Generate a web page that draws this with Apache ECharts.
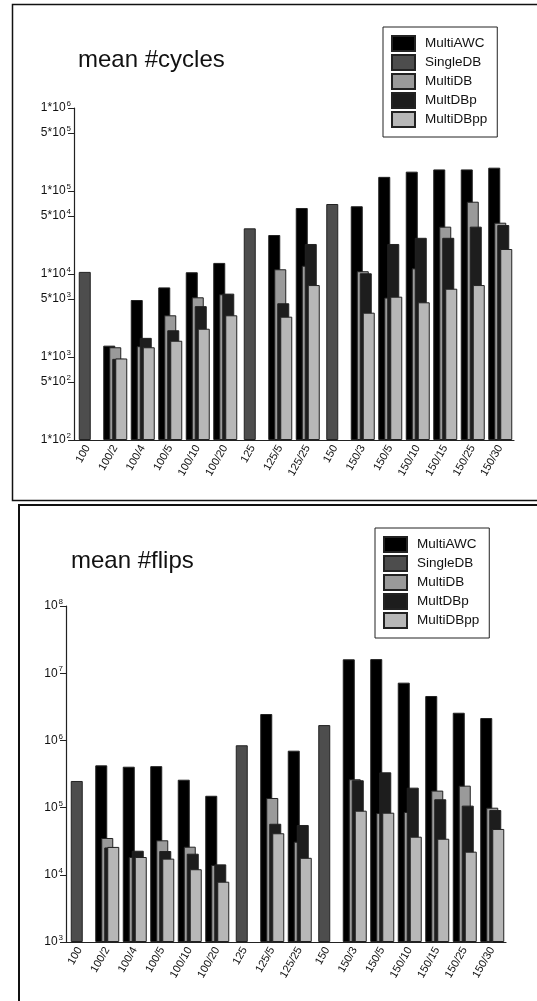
<!DOCTYPE html>
<html>
<head>
<meta charset="utf-8">
<title>mean #cycles / mean #flips</title>
<script src="https://cdn.jsdelivr.net/npm/echarts@6/dist/echarts.min.js"></script>
<style>
  html, body { margin: 0; padding: 0; background: #fff; }
  #chart { width: 537px; height: 1001px; }
</style>
</head>
<body>
<div id="chart"></div>
<script>
// categories (instance sizes)
var categories = ['100', '100/2', '100/4', '100/5', '100/10', '100/20', '125', '125/5', '125/25',
  '150', '150/3', '150/5', '150/10', '150/15', '150/25', '150/30'];
var seriesNames = ['MultiAWC', 'SingleDB', 'MultiDB', 'MultDBp', 'MultiDBpp'];

// mean #cycles
var cyclesMultiAWC  = [null, 1370, 4860, 6900, 10500, 13600, null, 29500, 62400, null, 65500, 148000, 171000, 182000, 182000, 191000];
var cyclesSingleDB  = [10600, null, null, null, null, null, 35500, null, null, 69700, null, null, null, null, null, null];
var cyclesMultiDB   = [null, 1310, 1350, 3180, 5240, 5700, null, 11400, 12600, null, 10800, 5200, 11700, 37200, 74300, 41500];
var cyclesMultDBp   = [null, 950, 1700, 2100, 4100, 5800, null, 4440, 23000, null, 10200, 23000, 27300, 27300, 37200, 38900];
var cyclesMultiDBpp = [null, 960, 1310, 1570, 2190, 3180, null, 3060, 7360, null, 3420, 5330, 4560, 6650, 7360, 20000];

// mean #flips
var flipsMultiAWC  = [null, 425000, 406000, 414000, 260000, 150000, null, 2470000, 703000, null, 16100000, 16200000, 7230000, 4580000, 2580000, 2150000];
var flipsSingleDB  = [249000, null, null, null, null, null, 846000, null, null, 1690000, null, null, null, null, null, null];
var flipsMultiDB   = [null, 35300, 18400, 32600, 26200, 14000, null, 139000, 31100, null, 264000, 83000, 86000, 179000, 212000, 99700];
var flipsMultDBp   = [null, 25500, 22800, 22600, 20600, 14300, null, 57500, 55100, null, 255000, 335000, 198000, 133000, 107000, 92000];
var flipsMultiDBpp = [null, 26000, 18400, 17400, 12100, 7890, null, 41500, 17900, null, 90000, 84000, 36900, 34400, 22100, 48100];

// tick labels of the upper chart
var cyclesTicks = [100, 500, 1000, 5000, 10000, 50000, 100000, 500000, 1000000];

var colors = ['#000000', '#4d4d4d', '#9a9a9a', '#1d1d1d', '#b7b7b7'];
var font = '"Liberation Sans", Arial, Helvetica, sans-serif';

var chart = echarts.init(document.getElementById('chart'));

function powLabel(v, withMantissa) {
  var e = Math.floor(Math.log10(v) + 1e-9);
  var m = Math.round(v / Math.pow(10, e));
  return withMantissa ? '{b|' + m + '*10}{s|' + e + '}' : '{b|10}{s|' + e + '}';
}

var richLab = {
  b: { fontSize: 12, lineHeight: 16, color: '#111', fontFamily: font },
  s: { fontSize: 8, lineHeight: 8, verticalAlign: 'top', padding: [0, 0, 0, 1], color: '#111', fontFamily: font }
};

function makeSeries(datas, idx) {
  return datas.map(function (d, i) {
    return {
      name: seriesNames[i],
      type: 'bar',
      xAxisIndex: idx,
      yAxisIndex: idx,
      data: d,
      barWidth: 12,
      barGap: '-75%',
      clip: true,
      itemStyle: { color: colors[i], borderColor: '#222', borderWidth: 1 },
      emphasis: { disabled: true }
    };
  });
}

function legendOpt(left, top) {
  return {
    left: left, top: top,
    orient: 'vertical',
    data: seriesNames,
    icon: 'rect',
    itemWidth: 23, itemHeight: 15, itemGap: 2,
    padding: [8, 10, 9, 8],
    borderColor: '#222', borderWidth: 1,
    selectedMode: false,
    textStyle: { fontSize: 13.5, lineHeight: 16, color: '#111', fontFamily: font, padding: [0, 0, 0, 5] }
  };
}

var xAxisBase = {
  type: 'category',
  data: categories,
  axisLine: { lineStyle: { color: '#222', width: 1.2 } },
  axisTick: { alignWithLabel: true, length: 6, lineStyle: { color: '#222' } },
  axisLabel: { rotate: 60, fontSize: 11, color: '#111', fontFamily: font, margin: 6, interval: 0 },
  splitLine: { show: false }
};

var option = {
  animation: false,
  backgroundColor: '#fff',
  title: [
    { text: 'mean #cycles', left: 73, top: 43, textStyle: { fontSize: 24, fontWeight: 'normal', color: '#111', fontFamily: font } },
    { text: 'mean #flips', left: 66, top: 544, textStyle: { fontSize: 24, fontWeight: 'normal', color: '#111', fontFamily: font } }
  ],
  legend: [legendOpt(383, 27), legendOpt(375, 528)],
  grid: [
    { left: 74, top: 108, width: 440, height: 332 },
    { left: 66, top: 606, width: 440, height: 336 }
  ],
  xAxis: [
    Object.assign({ gridIndex: 0 }, xAxisBase),
    Object.assign({ gridIndex: 1 }, xAxisBase)
  ],
  yAxis: [
    {
      type: 'log', gridIndex: 0, logBase: 10, min: 100, max: 1000000, startValue: 100,
      axisLine: { show: true, lineStyle: { color: '#222', width: 1.2 } },
      axisTick: { show: true, length: 6, customValues: cyclesTicks, lineStyle: { color: '#222' } },
      axisLabel: {
        customValues: cyclesTicks, margin: 3, rich: richLab,
        formatter: function (v) { return powLabel(v, true); }
      },
      splitLine: { show: false }
    },
    {
      type: 'log', gridIndex: 1, logBase: 10, min: 1000, max: 100000000, startValue: 1000,
      axisLine: { show: true, lineStyle: { color: '#222', width: 1.2 } },
      axisTick: { show: true, length: 6, lineStyle: { color: '#222' } },
      axisLabel: {
        margin: 3, rich: richLab,
        formatter: function (v) { return powLabel(v, false); }
      },
      splitLine: { show: false }
    }
  ],
  graphic: [
    { type: 'rect', shape: { x: 12.5, y: 4.5, width: 540, height: 496 }, style: { fill: null, stroke: '#111', lineWidth: 1.5 }, silent: true },
    { type: 'rect', shape: { x: 19, y: 505, width: 540, height: 510 }, style: { fill: null, stroke: '#111', lineWidth: 2 }, silent: true }
  ],
  series: makeSeries([cyclesMultiAWC, cyclesSingleDB, cyclesMultiDB, cyclesMultDBp, cyclesMultiDBpp], 0)
    .concat(makeSeries([flipsMultiAWC, flipsSingleDB, flipsMultiDB, flipsMultDBp, flipsMultiDBpp], 1))
};

chart.setOption(option);
</script>
</body>
</html>
